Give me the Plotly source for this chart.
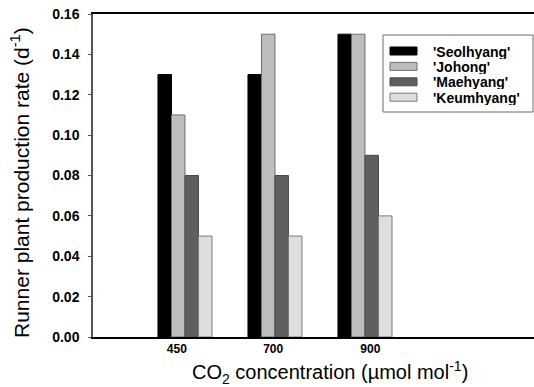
import plotly.graph_objects as go

# CO2 treatments and runner plant production rate (per day) for each cultivar
co2_levels = ["450", "700", "900"]
cultivars = ["'Seolhyang'", "'Johong'", "'Maehyang'", "'Keumhyang'"]
seolhyang = [0.13, 0.13, 0.15]
johong = [0.11, 0.15, 0.15]
maehyang = [0.08, 0.08, 0.09]
keumhyang = [0.05, 0.05, 0.06]

series = [seolhyang, johong, maehyang, keumhyang]
fills = ["#000000", "#bdbdbd", "#5f5f5f", "#dedede"]
outlines = ["#000000", "#6e6e6e", "#4a4a4a", "#7a7a7a"]

FONT = "Liberation Sans, Arial, Helvetica, sans-serif"
W, H = 534, 387
M_L, M_R, M_T, M_B = 93, 0, 14, 50
PW, PH = W - M_L - M_R, H - M_T - M_B

positions = list(range(len(co2_levels)))

fig = go.Figure()
for name, vals, fc, lc in zip(cultivars, series, fills, outlines):
    fig.add_trace(go.Bar(
        x=positions, y=vals, name=name,
        marker=dict(color=fc, line=dict(color=lc, width=1)),
        showlegend=False,
    ))


def px_x(px):
    return (px - M_L) / PW


def px_y(py):
    return (H - M_B - py) / PH


# Boxed key in the upper right of the plot
shapes = [dict(type="rect", xref="paper", yref="paper",
               x0=px_x(383), x1=px_x(533), y0=px_y(112), y1=px_y(35),
               line=dict(color="#6a6a6a", width=1), fillcolor="white", layer="above")]
annotations = []
row0, row_step = 51, 15.4
for i, (name, fc, lc) in enumerate(zip(cultivars, fills, outlines)):
    cy = row0 + i * row_step
    shapes.append(dict(type="rect", xref="paper", yref="paper",
                       x0=px_x(390), x1=px_x(417), y0=px_y(cy + 4), y1=px_y(cy - 4),
                       line=dict(color=lc, width=1), fillcolor=fc, layer="above"))
    annotations.append(dict(xref="paper", yref="paper", x=px_x(432), y=px_y(cy),
                            text=name, showarrow=False, xanchor="left", yanchor="middle",
                            height=15, borderpad=0,
                            font=dict(family=FONT, size=14, color="black", weight="bold")))

# Axis titles
annotations.append(dict(xref="paper", yref="paper", x=px_x(330), y=px_y(372),
                        text="CO<sub>2</sub> concentration (\u00b5mol mol<sup>-1</sup>)",
                        showarrow=False, xanchor="center", yanchor="middle",
                        font=dict(family=FONT, size=20, color="black")))
annotations.append(dict(xref="paper", yref="paper", x=px_x(20), y=px_y(183),
                        text="Runner plant production rate (d<sup>-1</sup>)",
                        textangle=-90, showarrow=False, xanchor="center", yanchor="middle",
                        font=dict(family=FONT, size=21, color="black")))

fig.update_layout(
    width=W, height=H,
    margin=dict(l=M_L, r=M_R, t=M_T, b=M_B, pad=0),
    paper_bgcolor="white", plot_bgcolor="white",
    barmode="group", bargap=0.4, bargroupgap=0,
    shapes=shapes, annotations=annotations,
    font=dict(family=FONT, color="black"),
)

fig.update_xaxes(
    range=[-1.022, 3.878],
    # labels sit a little off the group centres
    tickmode="array", tickvals=[-0.09, 0.98, 2.06], ticktext=co2_levels,
    ticks="", showgrid=False, zeroline=False,
    showline=True, linecolor="black", linewidth=1.5, mirror=True,
    tickfont=dict(family=FONT, size=12, color="black", weight="bold"),
    ticklabelstandoff=0,
)

fig.update_yaxes(
    range=[0, 0.16], dtick=0.02, tickformat=".2f",
    ticks="outside", ticklen=3, tickwidth=1, tickcolor="#555555",
    showgrid=False, zeroline=False,
    showline=True, linecolor="#555555", linewidth=1.5, mirror=False,
    tickfont=dict(family=FONT, size=14, color="black", weight="bold"),
    ticklabelstandoff=6,
)

fig.write_html("out.html")
